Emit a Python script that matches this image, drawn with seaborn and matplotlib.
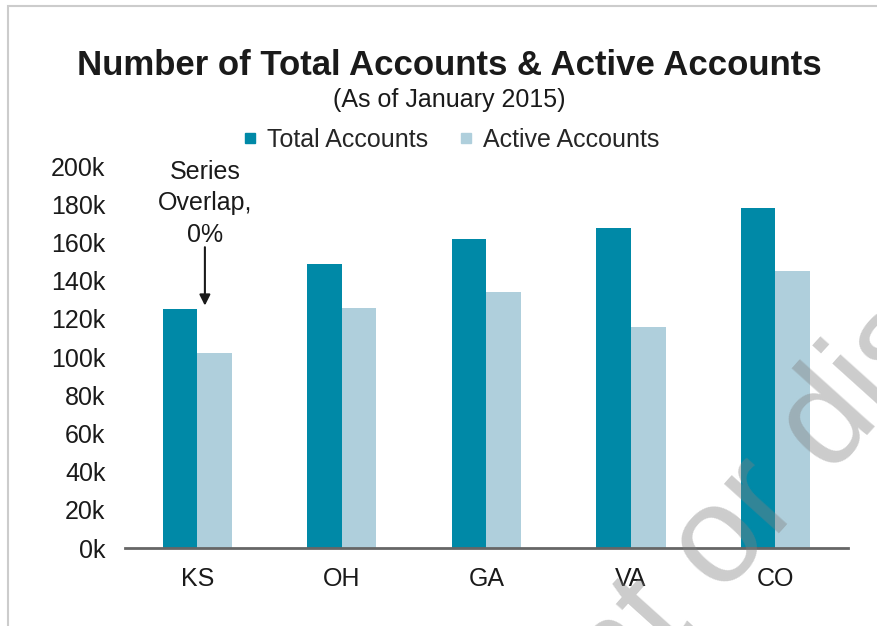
import pandas as pd
import matplotlib.pyplot as plt
import seaborn as sns
from matplotlib.lines import Line2D
from matplotlib.patches import Rectangle

# chart values (in thousands)
states = ['KS', 'OH', 'GA', 'VA', 'CO']
total_accounts = [125, 149, 162, 167.5, 178]
active_accounts = [102, 125.5, 134, 116, 145]
series = ['Total Accounts', 'Active Accounts']
colors = ['#0089A7', '#AFCFDC']
yticks = [0, 20, 40, 60, 80, 100, 120, 140, 160, 180, 200]

df = pd.DataFrame({
    'state': states * 2,
    'series': [series[0]] * len(states) + [series[1]] * len(states),
    'value': total_accounts + active_accounts,
})

sns.set_style('white')
plt.rcParams['font.family'] = ['Liberation Sans', 'DejaVu Sans']

fig = plt.figure(figsize=(8.77, 6.26), dpi=100)
ax = fig.add_axes([0.1425, 0.1246, 0.824, 0.610])

sns.barplot(data=df, x='state', y='value', hue='series', hue_order=series,
            palette=colors, width=0.48, gap=0, saturation=1,
            edgecolor='none', linewidth=0, ax=ax, legend=False)

ax.set_ylim(0, 200)
ax.set_xlim(-0.5, 4.5)
ax.set_yticks(yticks)
ax.set_yticklabels([f'{v}k' for v in yticks])
ax.set_xlabel('')
ax.set_ylabel('')
ax.tick_params(axis='y', length=0, pad=14, labelsize=18, labelcolor='#1a1a1a')
ax.tick_params(axis='x', length=0, pad=14, labelsize=18, labelcolor='#1a1a1a')
for side in ['top', 'right', 'left']:
    ax.spines[side].set_visible(False)
ax.spines['bottom'].set_color('#666666')
ax.spines['bottom'].set_linewidth(2)

# series overlap annotation
ax.text(0.053, 180.5, 'Series\nOverlap,\n0%', ha='center', va='center',
        fontsize=18, color='#1a1a1a', linespacing=1.38)
ax.annotate('', xy=(0.053, 125.5), xytext=(0.053, 159),
            arrowprops=dict(arrowstyle='-|>', color='#1a1a1a', lw=1.5,
                            mutation_scale=16))

# legend
handles = [Line2D([], [], marker='s', linestyle='none', markersize=7,
                  markerfacecolor=c, markeredgecolor=c) for c in colors]
fig.legend(handles, series, loc='center', bbox_to_anchor=(0.514, 0.777),
           ncol=2, frameon=False, fontsize=18, handlelength=0.6,
           handletextpad=0.4, columnspacing=1.2, borderpad=0)

# titles
fig.text(0.512, 0.896, 'Number of Total Accounts & Active Accounts',
         ha='center', va='center', fontsize=25, fontweight='bold', color='#1a1a1a')
fig.text(0.512, 0.840, '(As of January 2015)', ha='center', va='center',
         fontsize=18, color='#1a1a1a')

# frame lines (top and left)
fig.add_artist(Rectangle((8 / 877, -0.1), 1.2, 1 - 5.5 / 626 + 0.1,
                         transform=fig.transFigure, fill=False,
                         edgecolor='#cccccc', linewidth=1.5))

# watermark
fig.text(215 / 877, -534 / 626, 'Do not print or distribute', rotation=48,
         rotation_mode='anchor', ha='left', va='baseline', fontsize=100,
         color='#808080', alpha=0.4, zorder=10)

fig.savefig('out.png', dpi=100)
